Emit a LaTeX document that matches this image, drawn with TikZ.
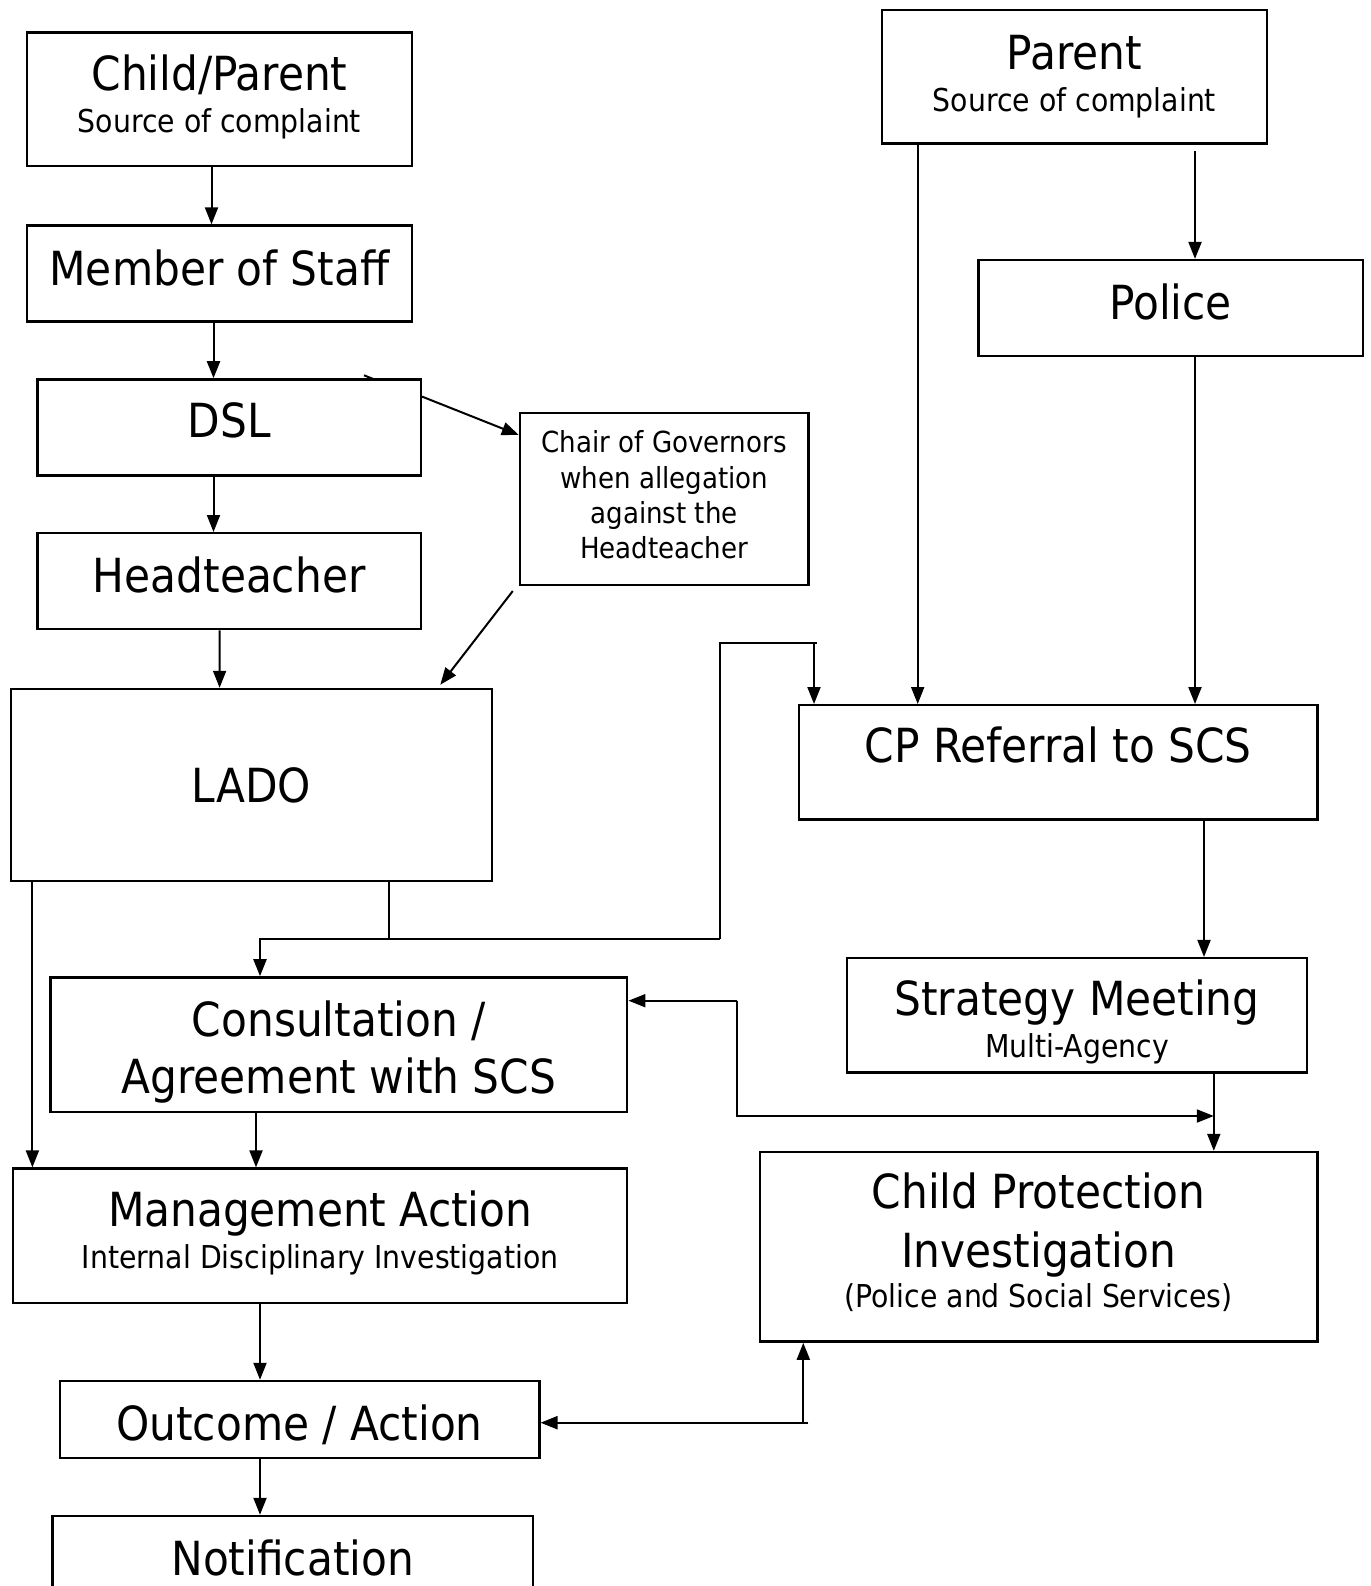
\documentclass[tikz,border=0pt]{standalone}
\usepackage{fontspec}
\setmainfont{DejaVu Sans Condensed}
\usetikzlibrary{arrows.meta}

\newcommand{\subtxt}{\fontsize{31.5}{36}\selectfont}

\begin{document}
\begin{tikzpicture}[x=1pt,y=-1pt,
  box/.style={draw, line width=2.4pt, inner sep=0pt, align=center, font=\fontsize{47}{57}\selectfont},
  twoline/.style={font=\fontsize{47}{42}\selectfont},
  arr/.style={line width=2pt, -{Triangle[length=17pt,width=13pt]}},
  link/.style={line width=2pt}]
\useasboundingbox (0,0) rectangle (1370,1586);

% left column
\node (cp) at (219.5,99.2) [box, twoline, minimum width=384.5pt, minimum height=133.6pt, text height=66.6pt, text depth=0pt] {Child/Parent\\{\subtxt Source of complaint}};
\node (staff) at (219.5,273.6) [box, minimum width=384.5pt, minimum height=96pt, text height=23pt, text depth=0pt] {Member of Staff};
\node (dsl) at (229.1,427.4) [box, minimum width=383.5pt, minimum height=96pt, text height=19.6pt, text depth=0pt] {DSL};
\node (head) at (229.1,581.2) [box, minimum width=383.5pt, minimum height=96pt, text height=23pt, text depth=0pt] {Headteacher};
\node (chair) at (664.2,498.8) [box, minimum width=288.4pt, minimum height=172pt, font=\fontsize{29}{35.4}\selectfont, text height=120.2pt, text depth=0pt] {Chair of Governors\\when allegation\\against the\\Headteacher};
\node (lado) at (251.4,785.1) [box, minimum width=480.6pt, minimum height=192.3pt] {LADO};
\node (consult) at (338.9,1044.7) [box, minimum width=576.7pt, minimum height=134.6pt, text height=98.4pt, text depth=0pt] {Consultation /\\Agreement with SCS};
\node (mgmt) at (320.2,1235.9) [box, twoline, minimum width=614pt, minimum height=134.6pt, text height=65.6pt, text depth=0pt] {Management Action\\{\subtxt Internal Disciplinary Investigation}};
\node (outcome) at (299.5,1419.5) [box, minimum width=479.6pt, minimum height=77pt, text height=41pt, text depth=0pt] {Outcome / Action};
\node (notif) at (292.7,1558) [box, minimum width=480.5pt, minimum height=84pt] {Notification};

% right column
\node (parent) at (1074.5,76.9) [box, twoline, minimum width=384.5pt, minimum height=133.6pt] {Parent\\{\subtxt Source of complaint}};
\node (police) at (1170.6,308.1) [box, minimum width=384.5pt, minimum height=96pt, text height=23pt, text depth=0pt] {Police};
\node (cpref) at (1058.3,762.4) [box, minimum width=518.1pt, minimum height=114.4pt, text height=20pt, text depth=20pt] {CP Referral to SCS};
\node (strat) at (1077,1015.3) [box, twoline, minimum width=460.3pt, minimum height=114.3pt, text height=83.6pt, text depth=0pt] {Strategy Meeting\\{\subtxt Multi-Agency}};
\node (cpi) at (1038.6,1246.8) [box, font=\fontsize{47}{59}\selectfont, minimum width=557.5pt, minimum height=189.6pt, text height=122pt, text depth=0pt] {Child Protection\\Investigation\\[-19pt]{\subtxt (Police and Social Services)}};

% junction points
\coordinate (jl) at (260,939);
\coordinate (jm) at (389,939);
\coordinate (jr) at (719.5,939);
\coordinate (jt) at (719.5,643.3);
\coordinate (je) at (816.7,643.3);
\coordinate (jd) at (814,643.3);
\coordinate (ka) at (736.9,1000.7);
\coordinate (kb) at (736.9,1116);
\coordinate (kc) at (1213.8,1116);
\coordinate (oc) at (808.3,1422.7);
\coordinate (ob) at (803.3,1422.7);
\coordinate (t1) at (364,375.3);
\coordinate (t2) at (373.3,379);

% left connectors
\draw[arr] ([xshift=-8pt]cp.south) -- ([xshift=-8pt]staff.north);
\draw[arr] ([xshift=-6pt]staff.south) -- ([xshift=-15.6pt]dsl.north);
\draw[arr] ([xshift=-15.6pt]dsl.south) -- ([xshift=-15.6pt]head.north);
\draw[arr] ([xshift=-9.5pt]head.south) -- ([xshift=-31.8pt]lado.north);
\draw[arr] ([yshift=30.8pt]dsl.east) -- ([yshift=63.8pt]chair.west);
\draw[link] (t1) -- (t2);
\draw[arr] ([xshift=-6pt,yshift=-5pt]chair.south west) -- ([xshift=-52.6pt,yshift=3pt]lado.north east);
\draw[link] ([xshift=137.6pt]lado.south) -- (jm);
\draw[link] (jr) -- (jt) -- (je);
\draw[arr] (jd) -- ([xshift=-244.3pt]cpref.north);
\draw[arr] (jr) -- (jl) -- ([xshift=-78.9pt]consult.north);
\draw[arr] ([xshift=-219pt]lado.south) -- ([xshift=-287.8pt]mgmt.north);
\draw[arr] ([xshift=-82.9pt]consult.south) -- ([xshift=-64.2pt]mgmt.north);
\draw[arr] ([xshift=-60.2pt]mgmt.south) -- ([xshift=-39.5pt]outcome.north);
\draw[arr] ([xshift=-39.5pt]outcome.south) -- ([xshift=-32.7pt]notif.north);

% right connectors
\draw[arr] ([xshift=-156.8pt]parent.south) -- ([xshift=-140.6pt]cpref.north);
\draw[arr] ([xshift=120.5pt,yshift=-6pt]parent.south) -- ([xshift=24.4pt]police.north);
\draw[arr] ([xshift=24.4pt]police.south) -- ([xshift=136.7pt]cpref.north);
\draw[arr] ([xshift=145.7pt]cpref.south) -- ([xshift=127pt]strat.north);
\draw[arr] ([xshift=136.8pt]strat.south) -- ([xshift=175.2pt]cpi.north);
\draw[arr] (ka) -- ([yshift=44pt]consult.east);
\draw[arr] (ka) -- (kb) -- (kc);
\draw[arr] (oc) -- ([yshift=-3.2pt]outcome.east);
\draw[arr] (ob) -- ([xshift=-235.3pt]cpi.south);
\end{tikzpicture}
\end{document}
